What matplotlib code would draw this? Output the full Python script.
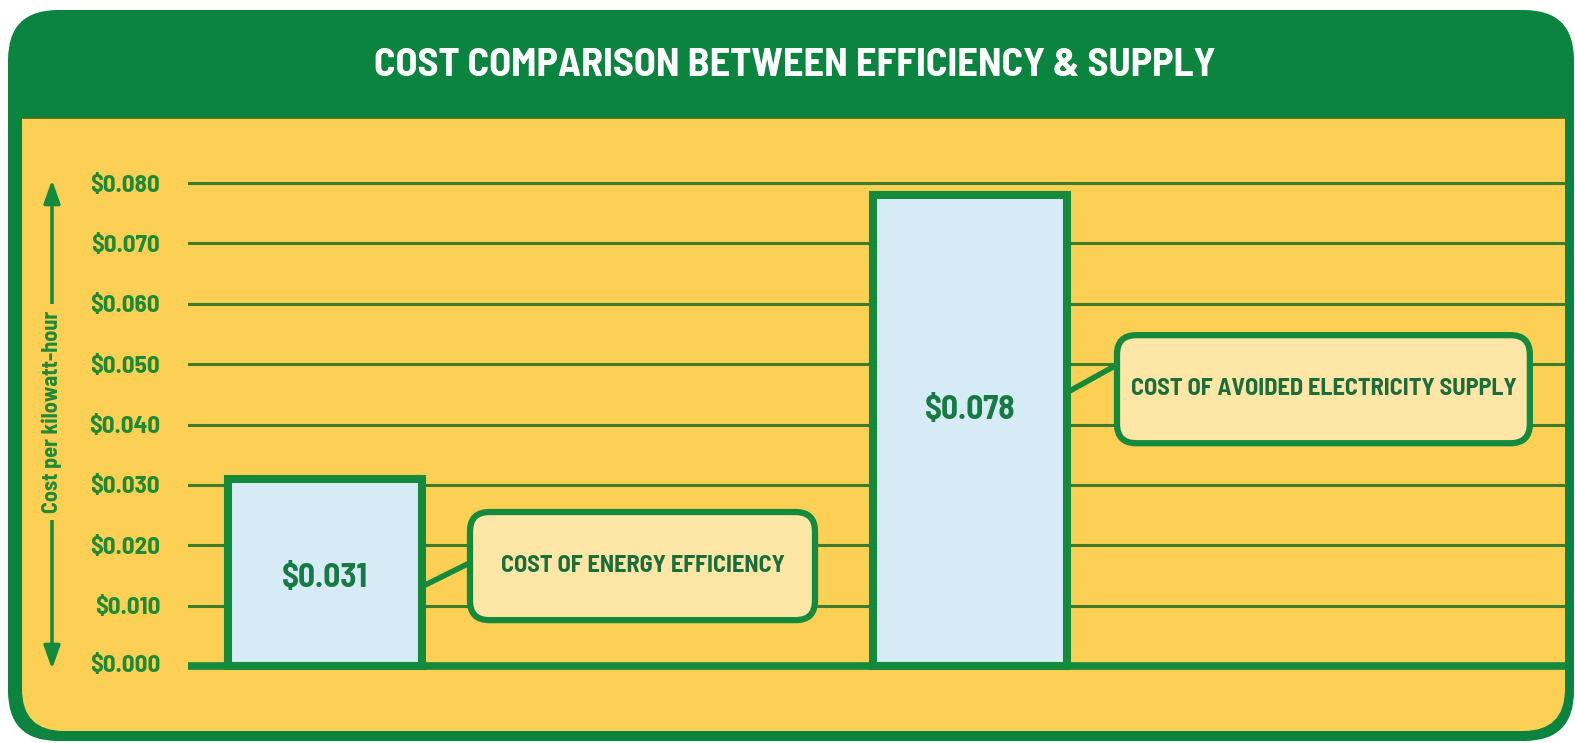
import numpy as np
import matplotlib
matplotlib.use("Agg")
import matplotlib.pyplot as plt
from matplotlib.patches import FancyBboxPatch, Rectangle
from matplotlib.transforms import blended_transform_factory

# data
categories = ["COST OF ENERGY EFFICIENCY", "COST OF AVOIDED ELECTRICITY SUPPLY"]
costs = [0.031, 0.078]
bar_labels = ["$0.031", "$0.078"]
yticks = [0.000, 0.010, 0.020, 0.030, 0.040, 0.050, 0.060, 0.070, 0.080]
ytick_labels = ["$0.000", "$0.010", "$0.020", "$0.030", "$0.040",
                "$0.050", "$0.060", "$0.070", "$0.080"]
title = "COST COMPARISON BETWEEN EFFICIENCY & SUPPLY"
ylabel = "Cost per kilowatt-hour"

# colours
GREEN = "#0b843f"
LINE_GREEN = "#138a3c"
GRID = "#3d7d2b"
YELLOW = "#fccf55"
BAR_FILL = "#d6ebf6"
BOX_FILL = "#fde6a6"
TEXT_GREEN = "#177a45"
TICK_GREEN = "#1f8a35"

FONT = ["Barlow Semi Condensed", "Saira SemiCondensed", "DejaVu Sans"]
plt.rcParams["font.family"] = FONT

W, H = 1575, 743
fig = plt.figure(figsize=(W / 100, H / 100), dpi=100, facecolor="white")

# frame / header, drawn in pixel units
bg = fig.add_axes([0, 0, 1, 1])
bg.set_xlim(0, W)
bg.set_ylim(H, 0)
bg.axis("off")
bg.add_patch(FancyBboxPatch((8, 10), 1566, 731,
                            boxstyle="round,pad=0,rounding_size=50",
                            fc=GREEN, ec="none"))
bg.add_patch(FancyBboxPatch((22, 70), 1543, 661,
                            boxstyle="round,pad=0,rounding_size=42",
                            fc=YELLOW, ec="none"))
bg.add_patch(Rectangle((20, 62), 1548, 56, fc=GREEN, ec="none"))
bg.plot([22, 1565], [117.5, 117.5], color="#3e6b1f", lw=1.2)
bg.text(795, 66, title, color="white", fontsize=29, fontweight="bold",
        ha="center", va="center")

# chart axes: value 0 at px 666, 0.08 at px 183; bars centred at px 325 and 970
ax_bottom_px, ax_top_px = 700, 130
ax_left_px, ax_right_px = 188, 1565
ppu_y = (666 - 183) / 0.08
ppu_x = 645.0
ax = fig.add_axes([ax_left_px / W, 1 - ax_bottom_px / H,
                   (ax_right_px - ax_left_px) / W, (ax_bottom_px - ax_top_px) / H])
ax.patch.set_alpha(0)
ax.set_ylim(-(ax_bottom_px - 666) / ppu_y, 0.08 + (183 - ax_top_px) / ppu_y)
ax.set_xlim((ax_left_px - 325) / ppu_x, (ax_right_px - 325) / ppu_x)
for s in ax.spines.values():
    s.set_visible(False)

x = np.arange(len(costs))
ax.bar(x, costs, width=0.302, color=BAR_FILL, edgecolor=LINE_GREEN,
       linewidth=5.8, zorder=3)
ax.axhline(0, color=LINE_GREEN, lw=5.5, zorder=4)

ax.set_yticks(yticks[1:])
ax.set_yticklabels(ytick_labels[1:])
ax.set_xticks([])
ax.tick_params(axis="y", length=0, pad=20, labelsize=18, labelcolor=TICK_GREEN)
for lab in ax.get_yticklabels():
    lab.set_fontweight("bold")
# zero label sits beside the thick baseline
ax.text(-0.0203, 0, ytick_labels[0], transform=blended_transform_factory(ax.transAxes, ax.transData),
        ha="right", va="center", fontsize=18, fontweight="bold", color=TICK_GREEN)
ax.yaxis.grid(True, color=GRID, lw=2.2)
ax.set_axisbelow(True)

# value labels inside bars
label_y = [0.0146, 0.0424]
for xi, txt, ly in zip(x, bar_labels, label_y):
    ax.text(xi, ly, txt, ha="center", va="center", fontsize=24,
            fontweight="bold", color=TEXT_GREEN, zorder=5)

# callout boxes (x0, y0, x1, y1 in data units) and connectors
boxes = [(0.2248, 0.0076, 0.7597, 0.0255), (1.2279, 0.0369, 1.868, 0.0548)]
connectors = [((0.155, 0.0134), (0.2248, 0.0171)), ((1.152, 0.0454), (1.2279, 0.0499))]
aspect = ppu_x / ppu_y
for (x0, y0, x1, y1), name, (p, q) in zip(boxes, categories, connectors):
    ax.plot([p[0], q[0]], [p[1], q[1]], color=LINE_GREEN, lw=4, zorder=4,
            solid_capstyle="butt")
    ax.add_patch(FancyBboxPatch((x0, y0), x1 - x0, y1 - y0,
                                boxstyle="round,pad=0,rounding_size=0.03",
                                mutation_aspect=aspect, fc=BOX_FILL,
                                ec=LINE_GREEN, lw=4.5, zorder=5))
    ax.text((x0 + x1) / 2, (y0 + y1) / 2, name, ha="center", va="center",
            fontsize=17.5, fontweight="bold", color="#1b6e3c", zorder=6)

# y label with double arrow
blend = blended_transform_factory(ax.transAxes, ax.transData)
xa = (52 - ax_left_px) / (ax_right_px - ax_left_px)
ax.annotate("", xy=(xa, 0.0805), xytext=(xa, -0.0005), xycoords=blend,
            textcoords=blend, annotation_clip=False,
            arrowprops=dict(arrowstyle="<|-|>,head_length=1.4,head_width=0.5",
                            color=LINE_GREEN, lw=2.5, shrinkA=0, shrinkB=0))
ax.text(xa, (666 - 412) / ppu_y, ylabel, transform=blend, rotation=90,
        ha="center", va="center", fontsize=16, fontweight="bold",
        color=TICK_GREEN, zorder=6, clip_on=False,
        bbox=dict(fc=YELLOW, ec="none", pad=5))

fig.savefig("out.png", dpi=100, facecolor="white")
